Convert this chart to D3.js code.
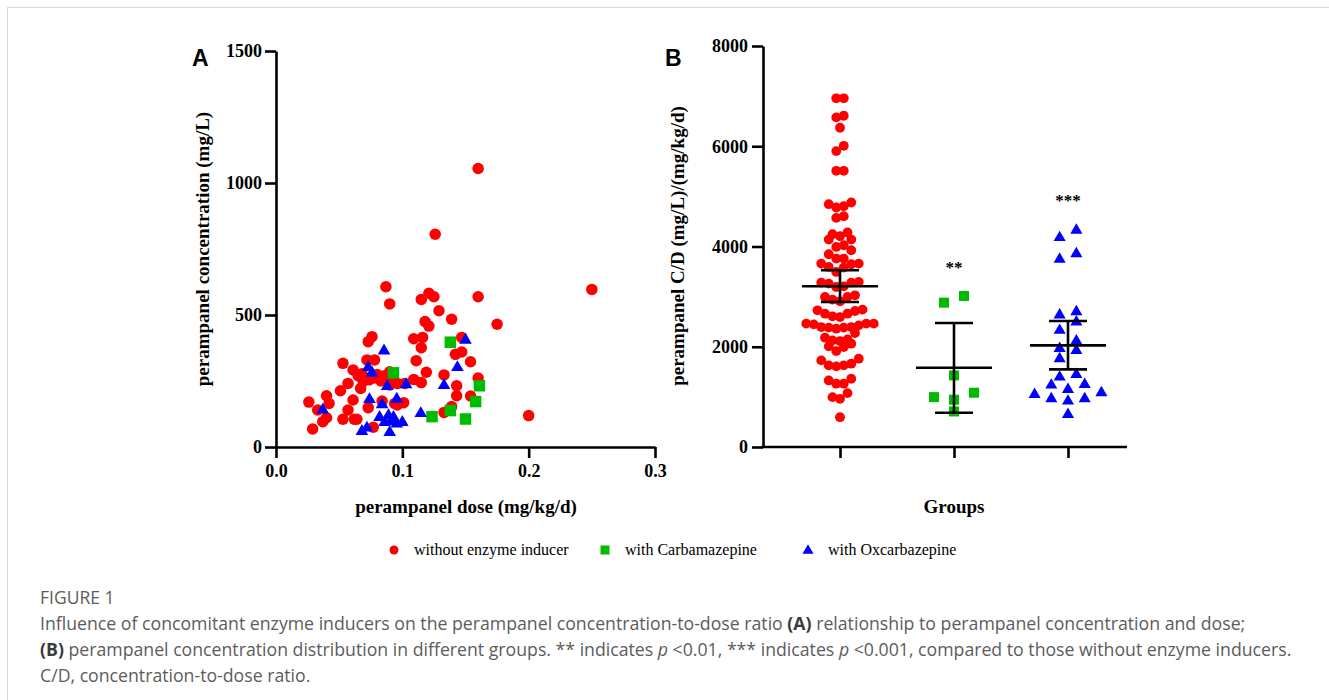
<!DOCTYPE html>
<html><head><meta charset="utf-8">
<script src="https://cdn.jsdelivr.net/npm/d3@7"></script>
<style>
body{margin:0;background:#fff;}
svg text{font-family:"Liberation Serif","Times New Roman",serif;}
svg text.cap{font-family:"Open Sans",sans-serif;fill:#5c5c5c;}
svg text.panel{font-family:"Liberation Sans",Arial,sans-serif;}
</style></head><body>
<svg id="c" width="1329" height="700"></svg>
<script>
// ---------- data ----------
const groups = ["without enzyme inducer","with Carbamazepine","with Oxcarbazepine"];
const colors = ["#ff0000","#00bb00","#0000ff"];
const xTicksA = [0,0.1,0.2,0.3];
const yTicksA = [0,500,1000,1500];
const yTicksB = [0,2000,4000,6000,8000];
// Panel A: dose (mg/kg/d), concentration
const redDose = [0.160,0.126,0.250,0.200,0.087,0.090,0.115,0.121,0.125,0.160,0.129,0.139,0.175,0.118,0.121,0.109,0.116,0.115,0.111,0.119,0.109,0.115,0.133,0.142,0.147,0.147,0.154,0.160,0.143,0.143,0.154,0.139,0.133,0.076,0.073,0.072,0.078,0.053,0.061,0.068,0.057,0.051,0.040,0.042,0.026,0.033,0.040,0.037,0.029,0.053,0.057,0.061,0.064,0.067,0.073,0.077,0.084,0.090,0.093,0.101,0.096,0.072,0.078,0.083,0.080,0.086,0.090,0.096,0.102,0.094,0.062,0.074,0.069,0.065];
const redConc = [1055,806,597,119,607,542,559,582,569,569,516,484,465,475,458,410,415,376,327,283,256,244,273,351,360,415,323,261,232,194,193,153,131,418,399,330,330,317,292,277,241,213,194,165,170,140,111,96,68,105,140,178,105,222,149,75,174,285,254,168,159,260,262,250,275,270,235,241,241,165,105,255,248,270];
const greenDose = [0.138,0.093,0.161,0.158,0.138,0.1235,0.150];
const greenConc = [397,281,232,172,138,115,106];
const blueDose = [0.0855,0.150,0.073,0.076,0.1436,0.088,0.103,0.133,0.074,0.0956,0.084,0.037,0.1146,0.082,0.089,0.093,0.086,0.100,0.0956,0.068,0.072,0.090,0.091];
const blueConc = [367,408,304,284,304,232,239,236,183,184,163,143,130,115,122,115,96,96,90,62,75,58,100];
// Panel B: C/D ratio
const redCD = [6956,6956,6576,6608,6369,6009,5903,5510,5510,4844,4878,4778,4804,4604,4571,4139,4205,4245,4139,4279,4025,3991,3925,3845,3759,3659,3592,3492,3579,3646,3659,3759,3280,3206,3192,3260,3293,3280,2906,3026,2993,2993,2940,2713,2660,2607,2593,2727,2660,2740,2461,2381,2393,2360,2393,2381,2461,2447,2427,2461,2273,2181,2127,2147,2061,2114,1994,1914,2008,1628,1628,1662,1728,1762,1608,1263,1263,1328,1362,995,962,1075,595];
const greenCD = [2880,3013,1428,1083,995,943,709];
const blueCD = [4339,4191,3871,3759,2647,2713,2507,2341,2127,1981,1941,1774,1408,1462,1262,1248,1062,975,1162,975,1095,929,663];
const meanCD = [3206,1582,2028];
const lowCD = [2893,683,1548];
const highCD = [3526,2473,2513];
const stars = ["","**","***"];
const starLevel = [0,3480,4800];

// ---------- drawing ----------
const svg = d3.select("#c");
svg.append("rect").attr("x",7.5).attr("y",7.5).attr("width",1340).attr("height",700).attr("fill","none").attr("stroke","#d8d8d8");

function marker(sel, g, size){
  if(g===0) sel.append("circle").attr("r",size/2).attr("fill",colors[0]);
  else if(g===1) sel.append("rect").attr("x",-size/2).attr("y",-size/2).attr("width",size).attr("height",size).attr("fill",colors[1]);
  else { const h=size*0.95, w=size*1.1; sel.append("path").attr("d",`M0,${-h*0.6}L${w/2},${h*0.4}L${-w/2},${h*0.4}Z`).attr("fill",colors[2]); }
}
function styleAxis(a){
  a.selectAll("path,line").attr("stroke","#000").attr("stroke-width",2.6);
  a.selectAll("text").attr("font-size",18).attr("font-weight","bold").attr("fill","#000");
}

// Panel A
const xA = d3.scaleLinear().domain([0,0.3]).range([276,655]);
const yA = d3.scaleLinear().domain([0,1500]).range([447,51]);
const gA = svg.append("g");
const setsA = [[redDose,redConc],[greenDose,greenConc],[blueDose,blueConc]];
setsA.forEach((s,gi)=>{
  s[0].forEach((d,i)=>{
    const m = gA.append("g").attr("transform",`translate(${xA(d)},${yA(s[1][i])})`);
    marker(m,gi,11.5);
  });
});
const axA_y = svg.append("g").attr("transform","translate(276,0)").call(d3.axisLeft(yA).tickValues(yTicksA).tickSize(11).tickSizeOuter(0).tickPadding(3).tickFormat(d3.format("d")));
styleAxis(axA_y);
const axA_x = svg.append("g").attr("transform","translate(0,447)").call(d3.axisBottom(xA).tickValues(xTicksA).tickSize(11).tickSizeOuter(0).tickPadding(6).tickFormat(d3.format(".1f")));
styleAxis(axA_x);
svg.append("text").attr("class","panel").attr("x",192).attr("y",66).text("A").attr("font-weight","bold").attr("font-size",23);
svg.append("text").attr("transform","translate(209,249) rotate(-90)").attr("text-anchor","middle").attr("font-weight","bold").attr("font-size",19).text("perampanel concentration (mg/L)");
svg.append("text").attr("x",466).attr("y",513).attr("text-anchor","middle").attr("font-weight","bold").attr("font-size",19).text("perampanel dose (mg/kg/d)");

// Panel B
const yB = d3.scaleLinear().domain([0,8000]).range([447,46]);
const xB = d3.scalePoint().domain(groups).range([840,1068]);
const gB = svg.append("g");
const setsB = [redCD,greenCD,blueCD];
const steps = [7.5,20,16.7], rowH=[170,150,170], sizesB=[9.8,10,11];
setsB.forEach((vals,gi)=>{
  const sorted = vals.slice().sort((a,b)=>a-b);
  const rows=[]; let cur=null;
  sorted.forEach(v=>{ if(!cur || v-cur[0]>rowH[gi]){cur=[v];rows.push(cur);} else cur.push(v); });
  rows.forEach(r=>{
    const n=r.length;
    r.forEach((v,i)=>{
      let off;
      if(n%2===1){ const k=Math.ceil(i/2); off = i===0?0:(i%2===1?-k:k); }
      else { const k=Math.floor(i/2)+0.5; off = i%2===0?-k:k; }
      const m = gB.append("g").attr("transform",`translate(${xB(groups[gi])+off*steps[gi]},${yB(v)})`);
      marker(m,gi,sizesB[gi]);
    });
  });
});
// mean and error bars
groups.forEach((g,i)=>{
  const cx=xB(g);
  const eb=svg.append("g").attr("stroke","#000").attr("stroke-width",2.6);
  eb.append("line").attr("x1",cx-38).attr("x2",cx+38).attr("y1",yB(meanCD[i])).attr("y2",yB(meanCD[i]));
  eb.append("line").attr("x1",cx).attr("x2",cx).attr("y1",yB(lowCD[i])).attr("y2",yB(highCD[i]));
  eb.append("line").attr("x1",cx-19).attr("x2",cx+19).attr("y1",yB(lowCD[i])).attr("y2",yB(lowCD[i]));
  eb.append("line").attr("x1",cx-19).attr("x2",cx+19).attr("y1",yB(highCD[i])).attr("y2",yB(highCD[i]));
  if(stars[i]) svg.append("text").attr("x",cx).attr("y",yB(starLevel[i])).attr("text-anchor","middle").attr("font-weight","bold").attr("font-size",17).text(stars[i]);
});
const axB_y = svg.append("g").attr("transform","translate(763,0)").call(d3.axisLeft(yB).tickValues(yTicksB).tickSize(11).tickSizeOuter(0).tickPadding(4).tickFormat(d3.format("d")));
styleAxis(axB_y);
const axB_x = svg.append("g").attr("transform","translate(0,447)").call(d3.axisBottom(xB).tickSize(11).tickSizeOuter(0).tickFormat(""));
axB_x.select(".domain").remove();
svg.append("line").attr("x1",761.7).attr("x2",1127).attr("y1",447).attr("y2",447).attr("stroke","#000").attr("stroke-width",2.6);
styleAxis(axB_x);
svg.append("text").attr("class","panel").attr("x",665).attr("y",66).text("B").attr("font-weight","bold").attr("font-size",23);
svg.append("text").attr("transform","translate(684,246) rotate(-90)").attr("text-anchor","middle").attr("font-weight","bold").attr("font-size",19).text("perampanel C/D (mg/L)/(mg/kg/d)");
svg.append("text").attr("x",954).attr("y",513).attr("text-anchor","middle").attr("font-weight","bold").attr("font-size",19).text("Groups");

// legend
const legX=[394,605,808];
groups.forEach((g,i)=>{
  const m=svg.append("g").attr("transform",`translate(${legX[i]},550)`);
  marker(m,i,i===2?10:9);
  svg.append("text").attr("x",legX[i]+20).attr("y",555).attr("font-size",16).text(g);
});

// caption
svg.append("text").attr("class","cap").attr("x",40).attr("y",604).attr("font-size",17.5).text("FIGURE 1");
const cap=[
 [["Influence of concomitant enzyme inducers on the perampanel concentration-to-dose ratio ",""],["(A)","b"],[" relationship to perampanel concentration and dose;",""]],
 [["(B)","b"],[" perampanel concentration distribution in different groups. ** indicates ",""],["p","i"],[" <0.01, *** indicates ",""],["p","i"],[" <0.001, compared to those without enzyme inducers.",""]],
 [["C/D, concentration-to-dose ratio.",""]]
];
cap.forEach((line,li)=>{
  const t=svg.append("text").attr("class","cap").attr("x",40).attr("y",630+li*26).attr("font-size",17.7);
  line.forEach(([s,st])=>{
    const ts=t.append("tspan").text(s);
    if(st==="b") ts.attr("font-weight","bold").style("fill","#3a3a3a");
    if(st==="i") ts.attr("font-style","italic");
  });
});
</script></body></html>
